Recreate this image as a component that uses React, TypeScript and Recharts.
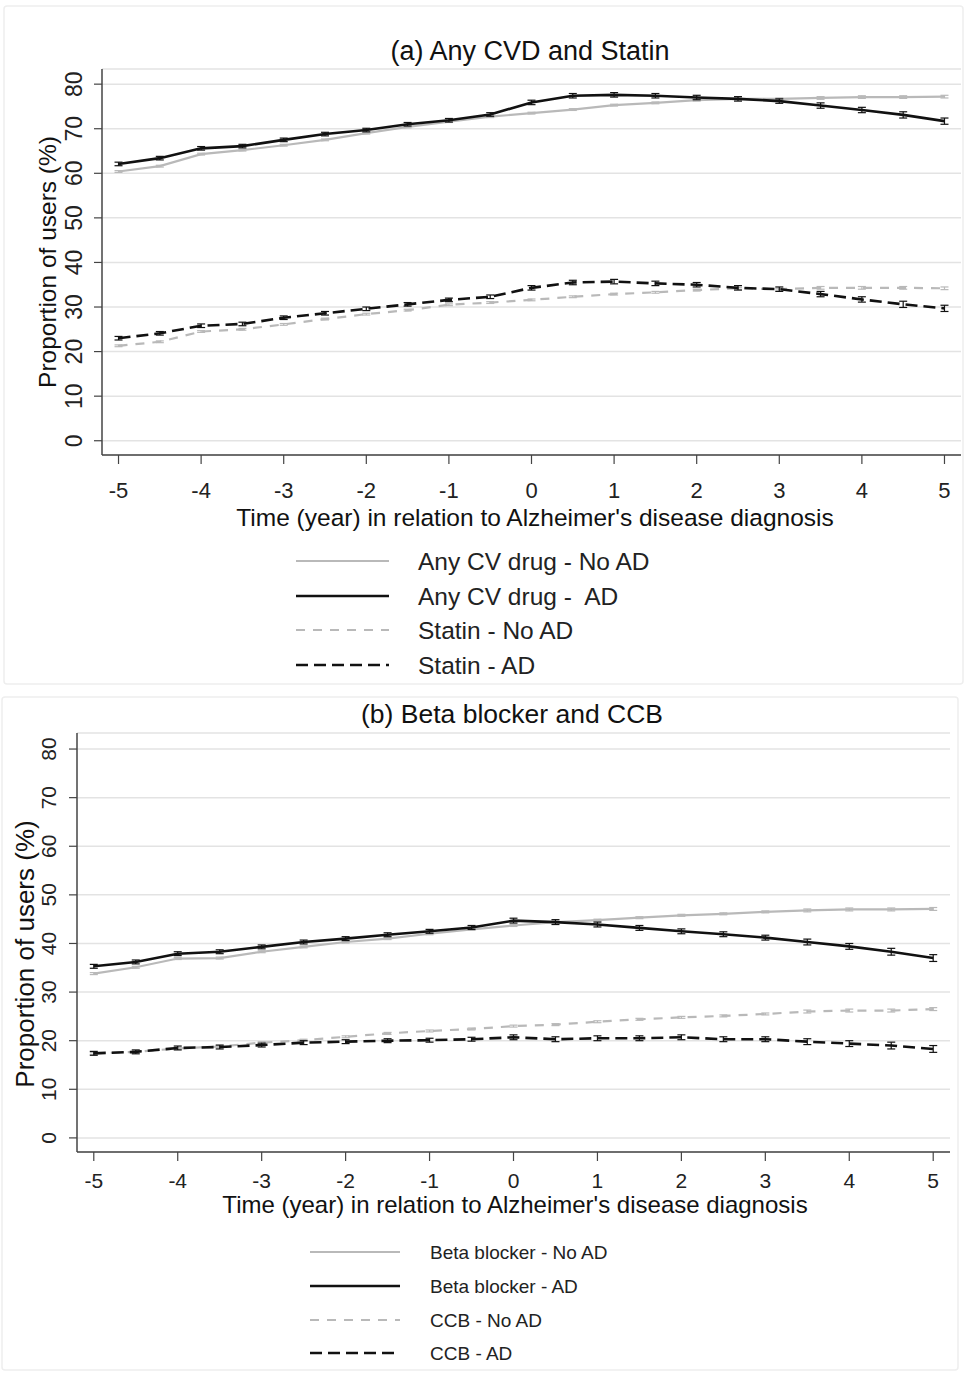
import React from "react"
import { LineChart, Line, XAxis, YAxis, CartesianGrid, ErrorBar } from "recharts"

// time in years relative to AD diagnosis
const years = [-5, -4.5, -4, -3.5, -3, -2.5, -2, -1.5, -1, -0.5, 0, 0.5, 1, 1.5, 2, 2.5, 3, 3.5, 4, 4.5, 5]
const xTicks = [-5, -4, -3, -2, -1, 0, 1, 2, 3, 4, 5]
const yTicks = [0, 10, 20, 30, 40, 50, 60, 70, 80]

// (a) Any CVD and Statin
const cvNoAD = [60.4, 61.6, 64.3, 65.2, 66.3, 67.5, 69.0, 70.4, 71.6, 72.7, 73.5, 74.3, 75.3, 75.8, 76.4, 76.7, 76.7, 76.9, 77.1, 77.1, 77.2]
const cvAD = [62.1, 63.4, 65.6, 66.1, 67.5, 68.8, 69.7, 71.0, 71.9, 73.2, 75.9, 77.4, 77.6, 77.4, 77.0, 76.7, 76.2, 75.2, 74.2, 73.1, 71.7]
const statinNoAD = [21.3, 22.2, 24.5, 25.0, 26.1, 27.3, 28.4, 29.3, 30.5, 31.0, 31.6, 32.3, 32.9, 33.3, 33.8, 34.2, 34.0, 34.3, 34.3, 34.3, 34.2]
const statinAD = [23.0, 24.1, 25.8, 26.2, 27.6, 28.6, 29.6, 30.6, 31.6, 32.3, 34.3, 35.5, 35.7, 35.3, 35.0, 34.3, 34.0, 32.9, 31.7, 30.6, 29.7]

// (b) Beta blocker and CCB
const bbNoAD = [33.8, 35.1, 36.9, 37.0, 38.3, 39.3, 40.3, 41.0, 42.0, 42.9, 43.7, 44.4, 44.8, 45.3, 45.8, 46.1, 46.5, 46.8, 47.0, 47.0, 47.1]
const bbAD = [35.3, 36.2, 37.9, 38.3, 39.3, 40.3, 41.0, 41.8, 42.5, 43.3, 44.7, 44.4, 43.9, 43.2, 42.5, 41.9, 41.2, 40.3, 39.4, 38.3, 37.0]
const ccbNoAD = [17.4, 17.7, 18.4, 18.8, 19.6, 20.1, 20.8, 21.5, 22.0, 22.4, 23.0, 23.3, 23.9, 24.4, 24.8, 25.1, 25.5, 26.0, 26.2, 26.2, 26.5]
const ccbAD = [17.4, 17.7, 18.5, 18.7, 19.1, 19.6, 19.8, 20.0, 20.1, 20.3, 20.7, 20.3, 20.5, 20.5, 20.7, 20.3, 20.3, 19.8, 19.4, 19.0, 18.3]

// 95% CI half-widths (approx, read from whiskers)
const ciNoAD = [0.2, 0.2, 0.2, 0.2, 0.2, 0.2, 0.2, 0.2, 0.2, 0.2, 0.2, 0.2, 0.2, 0.2, 0.2, 0.2, 0.2, 0.3, 0.3, 0.3, 0.3]
const ciAD = [0.4, 0.4, 0.4, 0.4, 0.4, 0.4, 0.4, 0.4, 0.4, 0.4, 0.5, 0.5, 0.5, 0.5, 0.5, 0.5, 0.5, 0.6, 0.6, 0.7, 0.7]

const legendA = ["Any CV drug - No AD", "Any CV drug -  AD", "Statin - No AD", "Statin - AD"]
const legendB = ["Beta blocker - No AD", "Beta blocker - AD", "CCB - No AD", "CCB - AD"]

const FONT = "'Liberation Sans', Arial, Helvetica, sans-serif"
const BLACK = "#111"
const GREY = "#b9b9b9"
const AXIS = "#444"

const dataA = years.map((t, i) => ({
  t, s1: cvNoAD[i], s2: cvAD[i], s3: statinNoAD[i], s4: statinAD[i], eNo: ciNoAD[i], eAD: ciAD[i],
}))
const dataB = years.map((t, i) => ({
  t, s1: bbNoAD[i], s2: bbAD[i], s3: ccbNoAD[i], s4: ccbAD[i], eNo: ciNoAD[i], eAD: ciAD[i],
}))

const styles = [
  { stroke: GREY, width: 2.2, dash: undefined, err: "eNo" },
  { stroke: BLACK, width: 2.6, dash: undefined, err: "eAD" },
  { stroke: GREY, width: 2.2, dash: "9 8", err: "eNo" },
  { stroke: BLACK, width: 2.6, dash: "12 6", err: "eAD" },
]

function Panel({ data, labelX, xFont, yFont, xMargin, top, margin, yWidth, yDomain }: any) {
  return (
    <div style={{ position: "absolute", left: 0, top }}>
      <LineChart width={973} height={520} data={data} margin={margin}>
        <CartesianGrid vertical={false} stroke="#e3e3e3" strokeWidth={1.5} />
        <XAxis
          dataKey="t"
          type="number"
          domain={[-5.2, 5.2]}
          ticks={xTicks}
          height={40}
          tickSize={9}
          tickMargin={xMargin}
          axisLine={{ stroke: AXIS, strokeWidth: 1.5 }}
          tickLine={{ stroke: AXIS, strokeWidth: 1.2 }}
          tick={{ fill: "#222", fontSize: xFont, fontFamily: FONT }}
          allowDataOverflow
        />
        <YAxis
          type="number"
          domain={yDomain}
          ticks={yTicks}
          width={yWidth}
          tickSize={8}
          axisLine={{ stroke: AXIS, strokeWidth: 1.5 }}
          tickLine={{ stroke: AXIS, strokeWidth: 1.2 }}
          allowDataOverflow
          tick={(p: any) => (
            <text
              key={p.payload.value}
              transform={`translate(${labelX},${p.y}) rotate(-90)`}
              textAnchor="middle"
              dominantBaseline="central"
              fontSize={yFont}
              fontFamily={FONT}
              fill="#222"
            >
              {p.payload.value}
            </text>
          )}
        />
        {styles.map((s, i) => (
          <Line
            key={i}
            dataKey={`s${i + 1}`}
            type="linear"
            stroke={s.stroke}
            strokeWidth={s.width}
            strokeDasharray={s.dash}
            dot={false}
            isAnimationActive={false}
          >
            <ErrorBar dataKey={s.err} direction="y" width={4} stroke={s.stroke} strokeWidth={1.2} isAnimationActive={false} />
          </Line>
        ))}
      </LineChart>
    </div>
  )
}

function Legend({ items, x1, x2, tx, ys, fontSize }: any) {
  return (
    <>
      {items.map((label: string, i: number) => (
        <g key={label}>
          <line x1={x1} x2={x2} y1={ys[i]} y2={ys[i]} stroke={styles[i].stroke} strokeWidth={styles[i].width}
            strokeDasharray={styles[i].dash} />
          <text x={tx} y={ys[i]} dominantBaseline="central" fontSize={fontSize} fill="#222"
            style={{ whiteSpace: "pre" }}>{label}</text>
        </g>
      ))}
    </>
  )
}

export default function App() {
  return (
    <div style={{ position: "absolute", left: 0, top: 0, width: 973, height: 1373, background: "#fff", fontFamily: FONT }}>
      <Panel data={dataA} labelX={74} xFont={22} yFont={23} xMargin={18} top={0} yWidth={102}
        yDomain={[-3.2, 83.4]} margin={{ top: 69, right: 12, left: 0, bottom: 25 }} />
      <Panel data={dataB} labelX={48} xFont={21} yFont={21} xMargin={12} top={690} yWidth={77}
        yDomain={[-2.9, 83.3]} margin={{ top: 43, right: 23, left: 0, bottom: 18 }} />
      <svg width={973} height={1373} style={{ position: "absolute", left: 0, top: 0, pointerEvents: "none" }} fontFamily={FONT}>
        <rect x={4} y={6} width={959} height={678} fill="none" stroke="#eee" strokeWidth={1.5} rx={3} />
        <rect x={2} y={697} width={956} height={673} fill="none" stroke="#eee" strokeWidth={1.5} rx={3} />
        <text x={530} y={60} textAnchor="middle" fontSize={27} fill="#111">(a) Any CVD and Statin</text>
        <text x={512} y={723} textAnchor="middle" fontSize={26.5} fill="#111">(b) Beta blocker and CCB</text>
        <text x={535} y={526} textAnchor="middle" fontSize={24.5} fill="#111">Time (year) in relation to Alzheimer's disease diagnosis</text>
        <text x={515} y={1213} textAnchor="middle" fontSize={24} fill="#111">Time (year) in relation to Alzheimer's disease diagnosis</text>
        <text transform="translate(47,262) rotate(-90)" textAnchor="middle" dominantBaseline="central" fontSize={24.5} fill="#111">Proportion of users (%)</text>
        <text transform="translate(25,954) rotate(-90)" textAnchor="middle" dominantBaseline="central" fontSize={26} fill="#111">Proportion of users (%)</text>
        <Legend items={legendA} x1={296} x2={389} tx={418} ys={[561, 596, 630, 665]} fontSize={24.5} />
        <Legend items={legendB} x1={310} x2={400} tx={430} ys={[1252, 1286, 1320, 1353]} fontSize={19} />
      </svg>
    </div>
  )
}
